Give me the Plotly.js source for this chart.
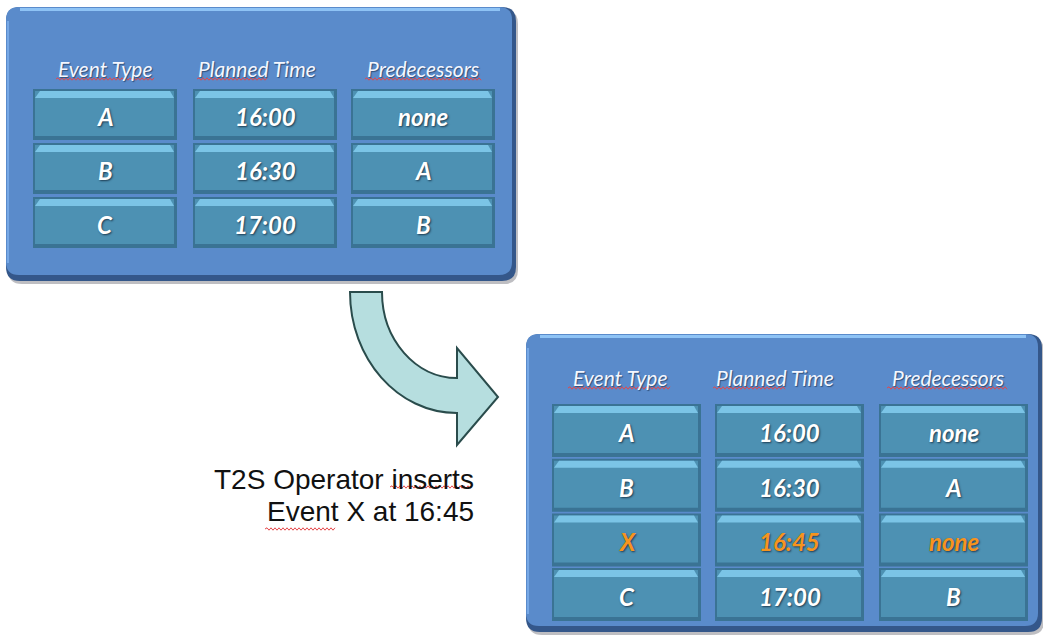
<!DOCTYPE html>
<html><head><meta charset="utf-8">
<script src="https://cdn.plot.ly/plotly-3.0.1.min.js"></script>
<style>html,body{margin:0;padding:0;background:#fff;}#chart{width:1043px;height:635px;}</style>
</head><body><div id="chart"></div>
<script>
// ---- data ----
const headers = ['Event Type', 'Planned Time', 'Predecessors'];
const beforeEvents = ['A', 'B', 'C'];
const beforeTimes = ['16:00', '16:30', '17:00'];
const beforePreds = ['none', 'A', 'B'];
const afterEvents = ['A', 'B', 'X', 'C'];
const afterTimes = ['16:00', '16:30', '16:45', '17:00'];
const afterPreds = ['none', 'A', 'none', 'B'];
const afterInserted = [false, false, true, false];
const captionLines = ['T2S Operator inserts', 'Event X at 16:45'];

// ---- geometry / style ----
const panels = [
  {x0: 6, y0: 7, x1: 516, y1: 281, r: 14,
   headerY: 68, headerX: [105, 257, 423], squigY: 79,
   squig: [[-49, 50], [-60, 10], [-58, 59]],
   colX: [33, 193, 351], colW: 144, rowY0: 89, rowPitch: 54, rowH: 51,
   cols: [beforeEvents, beforeTimes, beforePreds], hi: [false, false, false]},
  {x0: 526, y0: 334, x1: 1042, y1: 632, r: 14,
   headerY: 377, headerX: [620, 775, 948], squigY: 388,
   squig: [[-52, 50], [-62, 10], [-61, 60]],
   colX: [552, 715, 879], colW: 149, rowY0: 404, rowPitch: 54.7, rowH: 53,
   cols: [afterEvents, afterTimes, afterPreds], hi: afterInserted}
];

const shapes = [];
const annotations = [];

function rr(x0, y0, x1, y1, r) {
  return `M${x0 + r},${y0} L${x1 - r},${y0} Q${x1},${y0} ${x1},${y0 + r} L${x1},${y1 - r} Q${x1},${y1} ${x1 - r},${y1} L${x0 + r},${y1} Q${x0},${y1} ${x0},${y1 - r} L${x0},${y0 + r} Q${x0},${y0} ${x0 + r},${y0} Z`;
}
function pathShape(p, fill, line, lw) {
  return {type: 'path', xref: 'x', yref: 'y', path: p, fillcolor: fill || 'rgba(0,0,0,0)',
          line: {color: line || 'rgba(0,0,0,0)', width: lw || 0}, layer: 'below'};
}
function squiggle(xa, xb, y) {
  let p = `M${xa},${y}`; let up = true;
  for (let x = xa + 2; x <= xb; x += 2) { p += ` L${x},${y + (up ? -1.2 : 1.2)}`; up = !up; }
  return p;
}

panels.forEach(P => {
  // shadow + edge + body + highlight
  shapes.push(pathShape(rr(P.x0 + 2, P.y0 + 3, P.x1 + 2, P.y1 + 3, P.r), 'rgba(70,70,80,0.35)'));
  shapes.push(pathShape(rr(P.x0, P.y0, P.x1, P.y1, P.r), '#34578a'));
  shapes.push(pathShape(rr(P.x0, P.y0, P.x1 - 4, P.y1 - 6, P.r - 1), '#5a8bcb'));
  shapes.push(pathShape(`M${P.x0 + P.r},${P.y0 + 2.5} L${P.x1 - P.r - 2},${P.y0 + 2.5}`, null, '#8ec3f5', 3));
  shapes.push(pathShape(`M${P.x0 + 2},${P.y0 + P.r} L${P.x0 + 2},${P.y1 - P.r - 4}`, null, '#76a8e6', 2));

  headers.forEach((h, c) => {
    annotations.push({x: P.headerX[c], y: P.headerY, xref: 'x', yref: 'y', text: h, showarrow: false,
      xanchor: 'center', yanchor: 'middle',
      font: {family: 'Lato, "Open Sans", sans-serif', size: 21, style: 'italic', color: '#f4f7ff',
             shadow: '1px 1px 1px #2f4f7a'}});
    const s = P.squig[c];
    shapes.push(pathShape(squiggle(P.headerX[c] + s[0], P.headerX[c] + s[1], P.squigY), null, '#e4484b', 1));
  });

  P.cols.forEach((vals, c) => {
    vals.forEach((v, r) => {
      const x0 = P.colX[c], x1 = x0 + P.colW;
      const y0 = P.rowY0 + r * P.rowPitch, y1 = y0 + P.rowH;
      shapes.push(pathShape(`M${x0},${y0} L${x1},${y0} L${x1},${y1} L${x0},${y1} Z`, '#3a7394'));
      shapes.push(pathShape(`M${x0 + 2},${y0 + 2} L${x1 - 3},${y0 + 2} L${x1 - 3},${y1 - 4} L${x0 + 2},${y1 - 4} Z`, '#4d91b3'));
      shapes.push(pathShape(`M${x0 + 2},${y0 + 9} L${x0 + 7},${y0 + 2} L${x1 - 7},${y0 + 2} L${x1 - 3},${y0 + 9} Z`, '#7bc4e6'));
      annotations.push({x: (x0 + x1) / 2, y: (y0 + y1) / 2 + 2, xref: 'x', yref: 'y', text: v, showarrow: false,
        xanchor: 'center', yanchor: 'middle',
        font: {family: 'Lato, "Open Sans", sans-serif', size: 24, style: 'italic', weight: 'bold',
               color: P.hi[r] ? '#f7941e' : '#ffffff', shadow: '1px 1px 2px #1d3b52'}});
    });
  });
});

// curved arrow
(function () {
  const cx = 457, cy = 292, k = 0.5523;
  const ro = [107, 121], ri = [75, 86];
  const p = `M${cx - ro[0]},${cy} L${cx - ri[0]},${cy} ` +
    `C${cx - ri[0]},${cy + k * ri[1]} ${cx - k * ri[0]},${cy + ri[1]} ${cx},${cy + ri[1]} ` +
    `L${cx},348 L498,397 L${cx},445 L${cx},${cy + ro[1]} ` +
    `C${cx - k * ro[0]},${cy + ro[1]} ${cx - ro[0]},${cy + k * ro[1]} ${cx - ro[0]},${cy} Z`;
  shapes.push(pathShape(p, '#b6dedf', '#2a4c4c', 2));
})();

// caption
captionLines.forEach((t, i) => {
  annotations.push({x: 476, y: 479 + i * 32, xref: 'x', yref: 'y', text: t, showarrow: false,
    xanchor: 'right', yanchor: 'middle',
    font: {family: '"Liberation Sans", Arial, sans-serif', size: 28, color: '#111111'}});
});
shapes.push(pathShape(squiggle(390, 473, 487), null, '#e4484b', 1));
shapes.push(pathShape(squiggle(265, 335, 529), null, '#e4484b', 1));

const layout = {
  width: 1043, height: 635,
  margin: {l: 0, r: 0, t: 0, b: 0, pad: 0},
  paper_bgcolor: '#ffffff', plot_bgcolor: '#ffffff',
  showlegend: false,
  xaxis: {range: [0, 1043], visible: false, fixedrange: true},
  yaxis: {range: [635, 0], visible: false, fixedrange: true},
  shapes: shapes,
  annotations: annotations
};
Plotly.newPlot('chart', [{x: [], y: [], type: 'scatter', hoverinfo: 'skip'}], layout,
  {displayModeBar: false, staticPlot: true});
</script>
</body></html>
